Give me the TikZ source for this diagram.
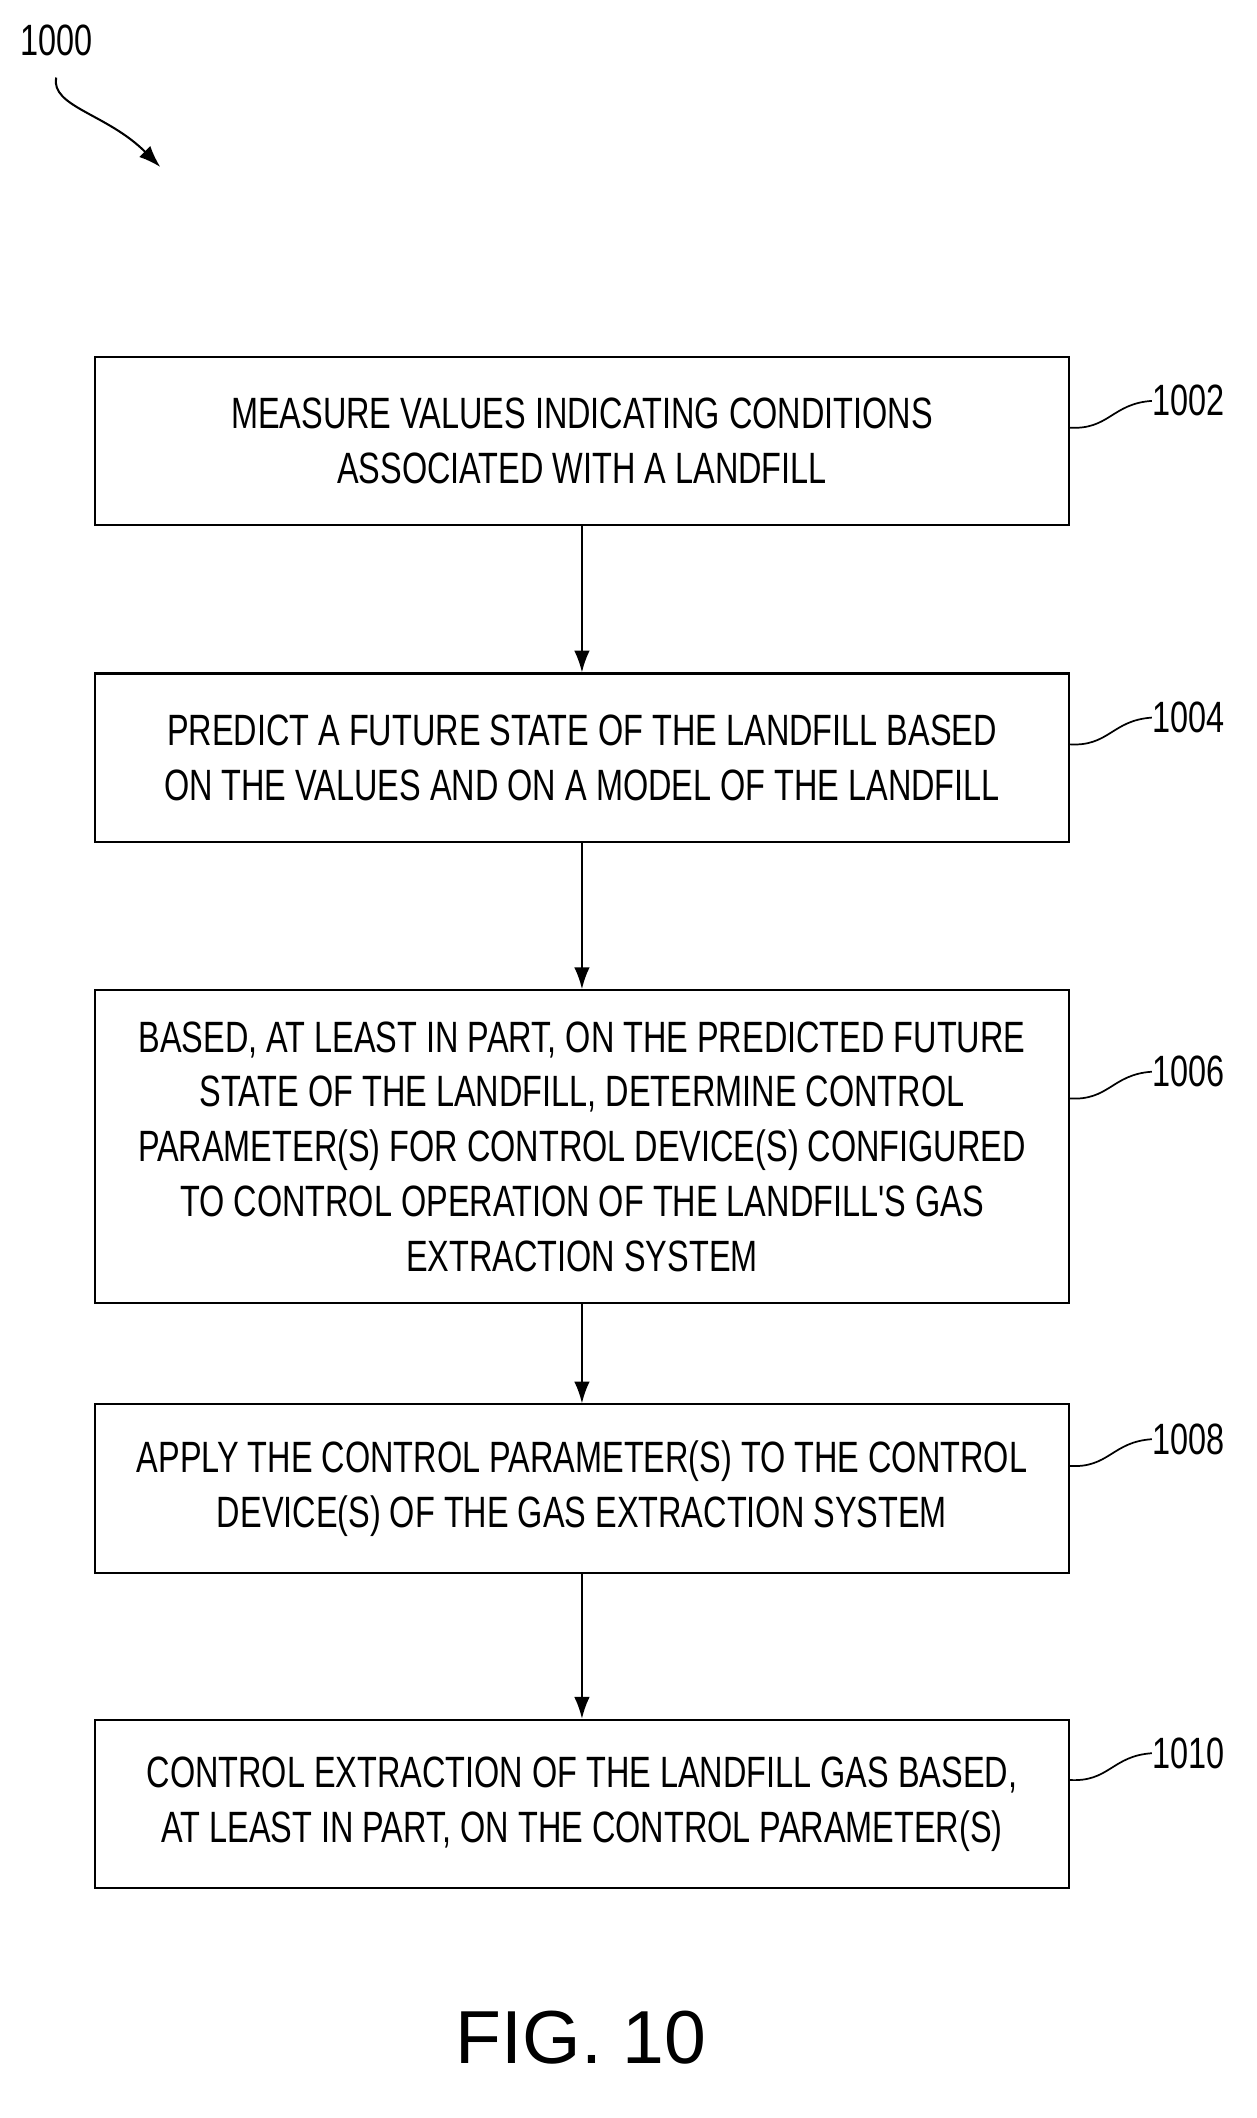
\documentclass[tikz,border=0pt]{standalone}
\usepackage{fontspec}
\setmainfont{Liberation Sans}
\newfontfamily\cond[FakeStretch=0.74]{Liberation Sans}
\begin{document}
\begin{tikzpicture}[x=0.03cm,y=-0.03cm,
 box/.style={draw,line width=1.3pt,minimum width=21.87cm,minimum height=3.78cm,align=center,font=\cond\fontsize{28}{35}\selectfont,inner sep=0pt},
 lab/.style={font=\cond\fontsize{28}{34}\selectfont,anchor=west,inner sep=0pt},
 arr/.style={line width=1.3pt,-{Latex[length=14pt,width=10pt]}},
 sq/.style={line width=1.1pt}]
\usetikzlibrary{arrows.meta}
\useasboundingbox (0,0) rectangle (940,1585);
\node[box] (b1) at (435.5,330) {MEASURE VALUES INDICATING CONDITIONS\\ASSOCIATED WITH A LANDFILL};
\node[box] (b2) at (435.5,567) {PREDICT A FUTURE STATE OF THE LANDFILL BASED\\ON THE VALUES AND ON A MODEL OF THE LANDFILL};
\node[box,minimum height=7.02cm] (b3) at (435.5,858) {BASED, AT LEAST IN PART, ON THE PREDICTED FUTURE\\STATE OF THE LANDFILL, DETERMINE CONTROL\\PARAMETER(S) FOR CONTROL DEVICE(S) CONFIGURED\\TO CONTROL OPERATION OF THE LANDFILL'S GAS\\EXTRACTION SYSTEM};
\node[box] (b4) at (435.5,1114) {APPLY THE CONTROL PARAMETER(S) TO THE CONTROL\\DEVICE(S) OF THE GAS EXTRACTION SYSTEM};
\node[box] (b5) at (435.5,1350) {CONTROL EXTRACTION OF THE LANDFILL GAS BASED,\\AT LEAST IN PART, ON THE CONTROL PARAMETER(S)};
\draw[arr] (b1) -- (b2);
\draw[arr] (b2) -- (b3);
\draw[arr] (b3) -- (b4);
\draw[arr] (b4) -- (b5);
\foreach \b/\t/\y in {b1/1002/300,b2/1004/537,b3/1006/802,b4/1008/1077,b5/1010/1312}{
 \node[lab] (l\t) at (862,\y) {\t};
 \draw[sq] (800,\y+20) .. controls (830,\y+22) and (832,\y+2) .. (l\t.west);
}
\node[lab,anchor=center] (l1000) at (42,30) {1000};
\coordinate (e) at (120,125);
\draw[line width=1.3pt,-{Latex[length=14pt,width=10pt]}] (42,58) .. controls (38,80) and (80,85) .. (e);
\node[font=\fontsize{48}{56}\selectfont] (fig) at (435,1525) {FIG. 10};
\end{tikzpicture}
\end{document}
